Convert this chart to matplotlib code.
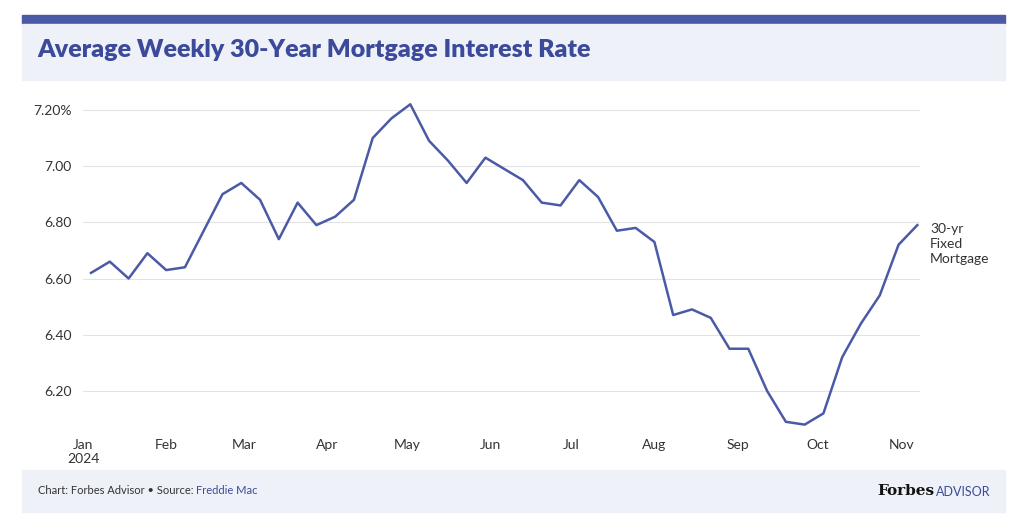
import matplotlib
matplotlib.use("Agg")
from matplotlib import pyplot as plt
from matplotlib.patches import Rectangle
import numpy as np

dates = np.arange(np.datetime64("2024-01-04"), np.datetime64("2024-11-08"), np.timedelta64(7, "D"))
rates = [6.62, 6.66, 6.60, 6.69, 6.63, 6.64, 6.77, 6.90, 6.94, 6.88, 6.74, 6.87, 6.79,
         6.82, 6.88, 7.10, 7.17, 7.22, 7.09, 7.02, 6.94, 7.03, 6.99, 6.95, 6.87, 6.86,
         6.95, 6.89, 6.77, 6.78, 6.73, 6.47, 6.49, 6.46, 6.35, 6.35, 6.20, 6.09, 6.08,
         6.12, 6.32, 6.44, 6.54, 6.72, 6.79]
yticks = [6.20, 6.40, 6.60, 6.80, 7.00, 7.20]
ylabels = ["6.20", "6.40", "6.60", "6.80", "7.00", "7.20%"]
months = ["Jan\n2024", "Feb", "Mar", "Apr", "May", "Jun", "Jul", "Aug", "Sep", "Oct", "Nov"]

plt.rcParams["font.family"] = ["Lato", "DejaVu Sans"]
navy = "#3b4a9a"
line_c = "#4b5aa6"
txt = "#333333"

fig = plt.figure(figsize=(10.24, 5.27), dpi=100)
W, H = 1024, 527

def box(x0, y0, x1, y1, color):
    fig.patches.append(Rectangle((x0 / W, 1 - y1 / H), (x1 - x0) / W, (y1 - y0) / H,
                                 transform=fig.transFigure, color=color, zorder=0))

box(22, 15, 1005, 24, "#4b5aa6")
box(22, 24, 1005, 80, "#eef1f7")
box(22, 470, 1005, 512, "#eef1f7")
fig.text(37 / W, 1 - 50 / H, "Average Weekly 30-Year Mortgage Interest Rate", fontsize=18,
         fontweight="heavy", color=navy, va="center")
fig.text(38 / W, 1 - 491 / H, "Chart: Forbes Advisor • Source: ", fontsize=8, color=txt, va="center")
fig.text(196 / W, 1 - 491 / H, "Freddie Mac", fontsize=8, color=navy, va="center")
fig.text(877 / W, 1 - 491 / H, "Forbes", fontsize=11, fontweight="bold", family="DejaVu Serif",
         color="#111111", va="center")
fig.text(936 / W, 1 - 492 / H, "ADVISOR", fontsize=9, color=navy, va="center")

ax = fig.add_axes([83 / W, 1 - 428 / H, (920 - 83) / W, (428 - 95) / H])
ax.plot(dates, rates, color=line_c, lw=1.8, clip_on=False)
ax.set_ylim(6.068, 7.253)
ax.set_xlim(np.datetime64("2024-01-01"), np.datetime64("2024-11-08"))
ax.set_yticks(yticks)
ax.set_yticklabels(ylabels)
ax.grid(axis="y", color="#e3e3e3", lw=0.8)
ax.set_xticks([np.datetime64("2024-%02d-01" % m) for m in range(1, 12)])
ax.set_xticklabels(months)
for s in ax.spines.values():
    s.set_visible(False)
ax.tick_params(length=0, labelsize=10, colors=txt)
ax.tick_params(axis="y", pad=8)
ax.tick_params(axis="x", pad=8)
ax.text(1.012, 1 - (244 - 95) / (428 - 95), "30-yr\nFixed\nMortgage", transform=ax.transAxes,
        fontsize=10, color=txt, va="center", linespacing=1.3)

fig.savefig("out.png", dpi=100)
